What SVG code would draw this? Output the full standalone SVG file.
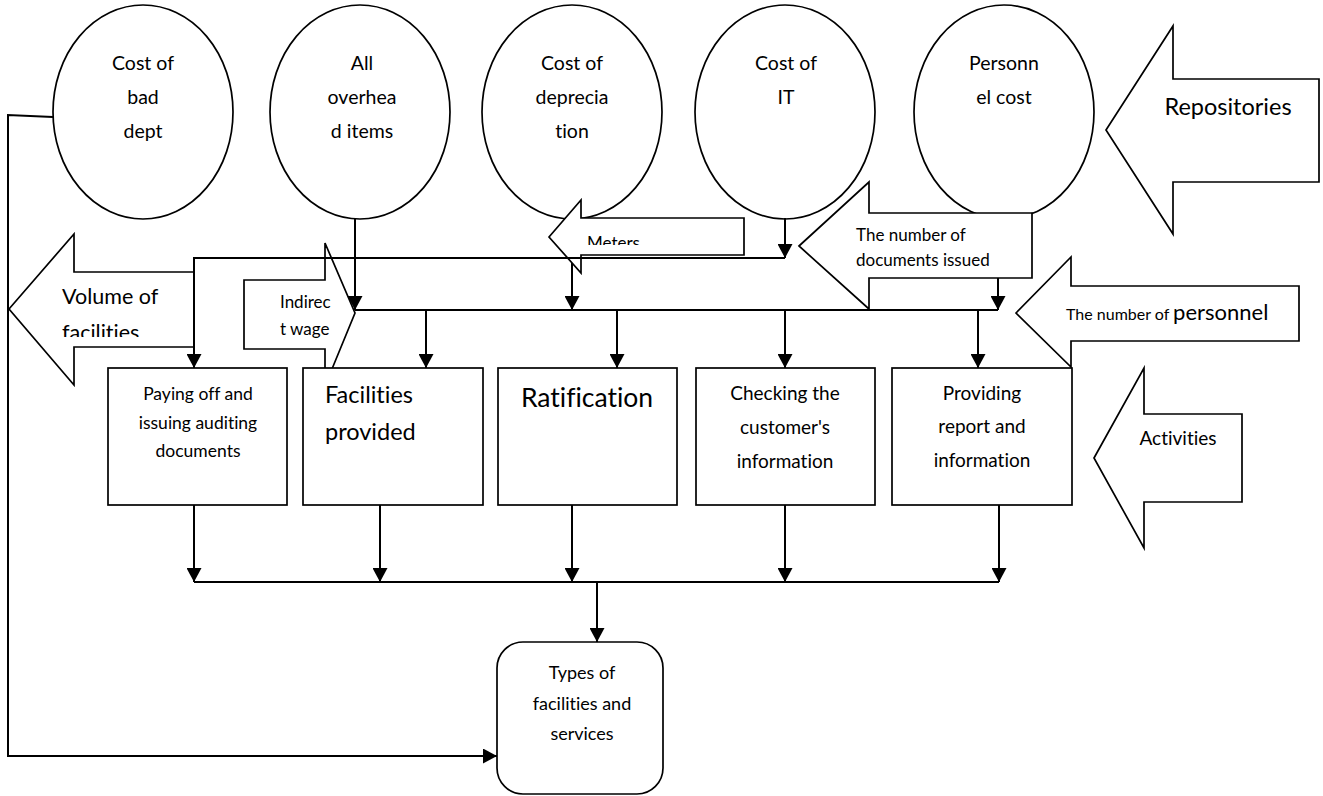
<svg xmlns="http://www.w3.org/2000/svg" width="1323" height="796" viewBox="0 0 1323 796">
<style>
.s{fill:#fff;stroke:#000;stroke-width:1.7}
.t{font-family:Lato,"Liberation Sans",sans-serif;fill:#000;font-variant-ligatures:none;font-feature-settings:"liga" 0,"clig" 0}
.c{text-anchor:middle}
.ln{fill:none;stroke:#000;stroke-width:2}
.ar{fill:none;stroke:#000;stroke-width:2;marker-end:url(#ah)}
</style>
<defs>
<marker id="ah" markerUnits="userSpaceOnUse" markerWidth="14" markerHeight="15" refX="14" refY="7.5" orient="auto"><path d="M0,0 L14,7.5 L0,15 Z" fill="#000"/></marker>
<clipPath id="cm"><rect x="580" y="219" width="163" height="26"/></clipPath>
<clipPath id="cv"><rect x="40" y="273" width="150" height="64"/></clipPath>
</defs>
<rect width="1323" height="796" fill="#fff"/>

<g id="under-lines">
<line class="ln" x1="572" y1="218" x2="572" y2="310" marker-end="url(#ah)"/>
<line class="ln" x1="998" y1="270" x2="998" y2="310" marker-end="url(#ah)"/>
</g>

<g id="n-bad-debt"><ellipse class="s" cx="143" cy="112" rx="90" ry="107"/>
<text class="t c" font-size="19.5"><tspan x="143" y="70">Cost of</tspan><tspan x="143" y="104">bad</tspan><tspan x="143" y="138">dept</tspan></text></g>
<g id="n-overhead"><ellipse class="s" cx="360" cy="112" rx="90" ry="107"/>
<text class="t c" font-size="19.5"><tspan x="362" y="70">All</tspan><tspan x="362" y="104">overhea</tspan><tspan x="362" y="138">d items</tspan></text></g>
<g id="n-depreciation"><ellipse class="s" cx="572" cy="112" rx="90" ry="107"/>
<text class="t c" font-size="19.5"><tspan x="572" y="70">Cost of</tspan><tspan x="572" y="104">deprecia</tspan><tspan x="572" y="138">tion</tspan></text></g>
<g id="n-it"><ellipse class="s" cx="785" cy="112" rx="90" ry="107"/>
<text class="t c" font-size="19.5"><tspan x="786" y="70">Cost of</tspan><tspan x="786" y="104">IT</tspan></text></g>
<g id="n-personnel"><ellipse class="s" cx="1004" cy="112" rx="90" ry="107"/>
<text class="t c" font-size="19.5"><tspan x="1004" y="70">Personn</tspan><tspan x="1004" y="104">el cost</tspan></text></g>

<g id="a-repositories"><path class="s" d="M1106,130 L1173,26 L1173,79 L1319,79 L1319,182 L1173,182 L1173,234 Z"/>
<text class="t c" font-size="23.5" x="1228" y="115">Repositories</text></g>

<g id="a-meters"><path class="s" d="M549,237 L581,200 L581,218 L744,218 L744,255 L581,255 L581,273 Z"/>
<text class="t" font-size="17" x="587" y="249" clip-path="url(#cm)">Meters</text></g>

<g id="a-documents"><path class="s" d="M799,246 L869,182 L869,213 L1032,213 L1032,278 L869,278 L869,309 Z"/>
<text class="t" font-size="17"><tspan x="856" y="241">The number of</tspan><tspan x="856" y="266">documents issued</tspan></text></g>

<g id="a-personnel"><path class="s" d="M1016,313 L1071,257 L1071,286 L1299,286 L1299,341 L1071,341 L1071,367 Z"/>
<text class="t" x="1066" y="320"><tspan font-size="16">The number of </tspan><tspan font-size="22">personnel</tspan></text></g>

<g id="a-activities"><path class="s" d="M1094,458 L1144,368 L1144,414 L1242,414 L1242,502 L1144,502 L1144,548 Z"/>
<text class="t c" font-size="19" x="1178" y="445">Activities</text></g>

<g id="a-volume"><path class="s" d="M9,309 L74,234 L74,272 L194,272 L194,347 L74,347 L74,385 Z"/>
<text class="t" font-size="21.5" clip-path="url(#cv)"><tspan x="62" y="304">Volume of</tspan><tspan x="62" y="340">facilities</tspan></text></g>

<g id="a-indirect"><path class="s" d="M244,280 L325,280 L325,243 L355,313 L325,386 L325,349 L244,349 Z"/>
<text class="t" font-size="17"><tspan x="280" y="308">Indirec</tspan><tspan x="280" y="335">t wage</tspan></text></g>

<g id="n-paying"><rect class="s" x="108" y="368" width="179" height="137"/>
<text class="t c" font-size="17.5"><tspan x="198" y="400">Paying off and</tspan><tspan x="198" y="429">issuing auditing</tspan><tspan x="198" y="457">documents</tspan></text></g>
<g id="n-facilities"><rect class="s" x="303" y="368" width="180" height="137"/>
<text class="t" font-size="23.5"><tspan x="325" y="403">Facilities</tspan><tspan x="325" y="440">provided</tspan></text></g>
<g id="n-ratification"><rect class="s" x="498" y="368" width="179" height="137"/>
<text class="t c" font-size="26.5" x="587" y="407">Ratification</text></g>
<g id="n-checking"><rect class="s" x="696" y="368" width="179" height="137"/>
<text class="t c" font-size="19"><tspan x="785" y="400">Checking the</tspan><tspan x="785" y="434">customer's</tspan><tspan x="785" y="468">information</tspan></text></g>
<g id="n-providing"><rect class="s" x="892" y="368" width="180" height="137"/>
<text class="t c" font-size="19"><tspan x="982" y="400">Providing</tspan><tspan x="982" y="433">report and</tspan><tspan x="982" y="467">information</tspan></text></g>

<g id="n-types"><rect class="s" x="497" y="642" width="166" height="152" rx="26" ry="26"/>
<text class="t c" font-size="18"><tspan x="582" y="679">Types of</tspan><tspan x="582" y="710">facilities and</tspan><tspan x="582" y="740">services</tspan></text></g>

<g id="connectors">
<polyline class="ar" points="53,117 8,115 8,756 497,756"/>
<line class="ar" x1="355" y1="218" x2="355" y2="310"/>
<line class="ar" x1="785" y1="218" x2="785" y2="258"/>
<polyline class="ar" points="785,258 194,258 194,368"/>
<line class="ln" x1="355" y1="310" x2="998" y2="310"/>
<line class="ar" x1="426" y1="310" x2="426" y2="368"/>
<line class="ar" x1="617" y1="310" x2="617" y2="368"/>
<line class="ar" x1="785" y1="310" x2="785" y2="368"/>
<line class="ar" x1="978" y1="310" x2="978" y2="368"/>
<line class="ar" x1="194" y1="505" x2="194" y2="582"/>
<line class="ar" x1="380" y1="505" x2="380" y2="582"/>
<line class="ar" x1="572" y1="505" x2="572" y2="582"/>
<line class="ar" x1="785" y1="505" x2="785" y2="582"/>
<line class="ar" x1="999" y1="505" x2="999" y2="582"/>
<line class="ln" x1="194" y1="582" x2="999" y2="582"/>
<line class="ar" x1="597" y1="582" x2="597" y2="642"/>
</g>
</svg>
